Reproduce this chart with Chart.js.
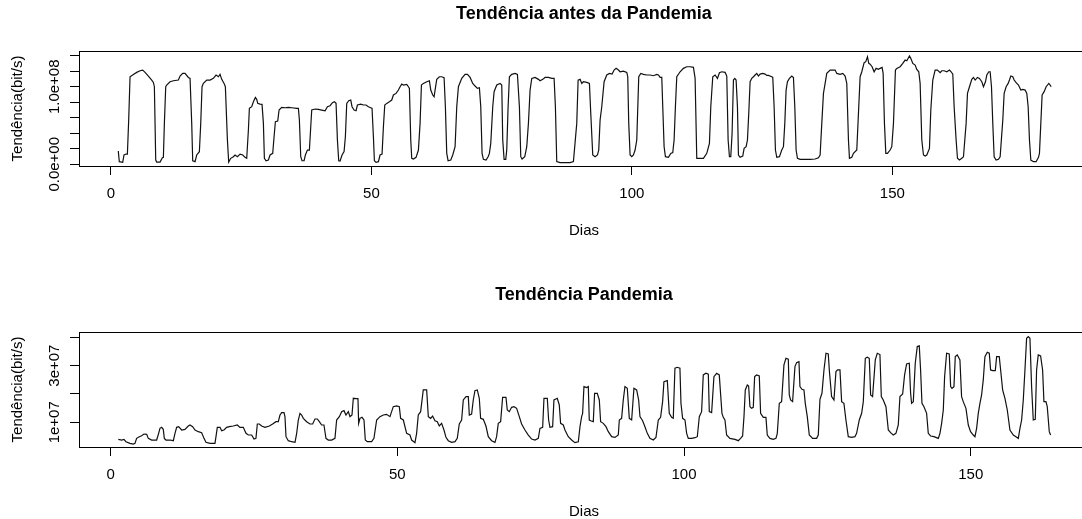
<!DOCTYPE html>
<html>
<head>
<meta charset="utf-8">
<script src="https://cdn.jsdelivr.net/npm/chart.js@4.4.1/dist/chart.umd.min.js"></script>
<style>
  html, body { margin: 0; padding: 0; background: #fff; overflow: hidden; }
  #wrap { position: relative; width: 1082px; height: 519px; overflow: hidden; }
  canvas { position: absolute; left: 0; }
  #topChart { top: 0; }
  #bottomChart { top: 260px; }
</style>
</head>
<body>
<div id="wrap">
  <canvas id="topChart" width="1100" height="260"></canvas>
  <canvas id="bottomChart" width="1100" height="259"></canvas>
</div>
<script>
// values are read in Mbit/s and turned into bit/s when the datasets are built
const MBIT = 1e6;

/* =========================
   DATA - antes da pandemia
========================= */

const beforeDays = [
  1.4, 1.6, 2.25, 2.5, 2.9, 3.15, 3.4, 3.66, 4.3, 4.94, 5.58, 6.09, 6.54, 7.18, 7.82, 8.14, 8.33, 8.59, 8.78, 9.42,
  9.87, 10.06, 10.25, 10.51, 10.7, 11.34, 11.98, 12.94, 13.26, 13.77, 14.22, 14.86, 15.18, 15.5, 15.69, 16.14, 16.46, 16.97, 17.23, 17.48,
  17.74, 18.38, 19.02, 19.66, 20.17, 20.62, 20.94, 21.26, 21.71, 21.96, 22.35, 22.6, 22.99, 23.5, 23.82, 24.27, 24.78, 25.29, 25.74, 26.06,
  26.38, 26.57, 27.02, 27.34, 27.72, 27.98, 28.17, 28.62, 29.0, 29.26, 29.45, 29.77, 30.22, 30.54, 31.05, 31.31, 31.56, 32.01, 32.27, 32.78,
  33.42, 34.06, 34.7, 35.66, 35.98, 36.17, 36.43, 36.68, 37.07, 37.32, 37.71, 38.09, 38.35, 38.54, 39.18, 39.82, 40.46, 41.1, 41.55, 42.06,
  42.51, 42.89, 43.21, 43.47, 43.72, 43.98, 44.36, 44.75, 45.0, 45.26, 45.64, 46.03, 46.28, 46.67, 47.05, 47.31, 47.95, 48.46, 48.97, 49.42,
  49.87, 50.12, 50.38, 50.57, 50.89, 51.34, 51.66, 52.04, 52.3, 52.56, 52.94, 53.45, 53.9, 54.22, 54.73, 55.18, 55.5, 55.82, 56.14, 56.78,
  57.1, 57.29, 57.55, 57.74, 58.06, 58.57, 59.02, 59.34, 59.6, 59.98, 60.62, 61.13, 61.39, 61.77, 62.03, 62.22, 62.54, 63.05, 63.5, 63.95,
  64.2, 64.46, 64.72, 65.23, 65.61, 66.06, 66.38, 66.7, 67.34, 67.98, 68.43, 68.94, 69.45, 69.9, 70.35, 70.73, 70.99, 71.24, 71.5, 72.01,
  72.4, 72.65, 72.91, 73.29, 73.55, 74.06, 74.7, 75.02, 75.21, 75.47, 75.79, 75.98, 76.24, 76.49, 76.94, 77.58, 78.03, 78.41, 78.67, 78.92,
  79.44, 79.82, 80.14, 80.46, 80.78, 81.42, 82.06, 82.38, 82.89, 83.34, 83.98, 84.62, 85.07, 85.32, 85.58, 86.22, 87.18, 88.14, 88.78, 89.42,
  89.68, 90.06, 90.38, 90.7, 91.34, 91.85, 92.11, 92.49, 92.94, 93.39, 93.64, 93.9, 94.22, 94.67, 95.18, 95.69, 96.2, 96.59, 96.97, 97.42,
  97.74, 98.38, 99.02, 99.21, 99.4, 99.66, 99.98, 100.3, 100.62, 100.94, 101.32, 101.71, 102.22, 102.86, 103.5, 104.14, 104.78, 105.1, 105.42, 105.74,
  105.93, 106.19, 106.44, 107.02, 107.47, 107.85, 108.11, 108.36, 108.62, 109.26, 109.9, 110.54, 111.18, 111.82, 112.14, 112.46, 113.1, 113.74, 114.38, 114.89,
  115.15, 115.53, 115.98, 116.43, 116.81, 117.26, 117.9, 118.22, 118.48, 118.73, 118.99, 119.24, 119.5, 119.76, 120.01, 120.27, 120.46, 120.78, 121.29, 121.55,
  121.93, 122.19, 122.44, 122.7, 123.02, 123.34, 123.66, 123.98, 124.3, 124.62, 125.13, 125.58, 125.9, 126.22, 126.86, 127.05, 127.31, 127.56, 127.82, 128.33,
  128.78, 129.1, 129.36, 129.61, 129.87, 130.25, 130.7, 131.02, 131.28, 131.53, 131.79, 132.3, 133.26, 134.22, 135.18, 135.82, 136.14, 136.46, 136.78, 137.1,
  137.42, 138.06, 139.02, 139.34, 139.98, 140.49, 140.94, 141.26, 141.58, 141.77, 142.22, 142.54, 143.18, 143.82, 144.14, 144.59, 144.91, 145.23, 145.48, 145.74,
  146.12, 146.51, 146.89, 147.34, 147.66, 148.04, 148.24, 148.49, 148.75, 149.07, 149.58, 149.9, 150.22, 150.6, 150.86, 151.5, 152.01, 152.46, 152.78, 153.29,
  153.55, 153.93, 154.38, 154.7, 155.08, 155.34, 155.66, 155.98, 156.3, 156.62, 157.13, 157.39, 157.77, 158.22, 158.67, 159.18, 159.5, 159.95, 160.46, 160.97,
  161.29, 161.61, 161.87, 162.25, 162.51, 162.89, 163.34, 163.66, 164.17, 164.43, 164.81, 165.26, 165.58, 165.9, 166.35, 166.73, 167.18, 167.5, 167.88, 168.14,
  168.52, 168.78, 169.04, 169.29, 169.55, 169.93, 170.38, 170.7, 171.21, 171.47, 171.85, 172.24, 172.49, 172.75, 173.13, 173.39, 173.77, 174.22, 174.67, 175.05,
  175.5, 175.82, 176.08, 176.33, 176.59, 177.1, 177.61, 178.06, 178.25, 178.51, 178.76, 179.15, 179.53, 180.04, 180.3, 180.49
];

const beforeTraffic = [
  17.1, 3.4, 2.5, 12, 13.2, 13.2, 57.1, 113, 116, 118.6, 120.7, 121.6, 118.6, 113.9, 108.7, 105.7, 100.1, 5.5, 2.9, 2.9,
  8.5, 9, 52.8, 100.1, 102.3, 106.5, 107.8, 108.7, 113.9, 117.3, 117.3, 112.1, 110.9, 52.8, 4.6, 3.4, 12, 16.3, 52.8, 100.1,
  104.4, 108.7, 108.7, 110.9, 115.2, 113, 116, 109.6, 104.4, 100.1, 31.3, 2.9, 7.7, 9.8, 12, 9.8, 13.2, 12, 9, 7.7,
  44.2, 72.2, 74.3, 80.7, 86.3, 83.8, 78.6, 77.7, 77.3, 52.8, 7.7, 4.6, 5.5, 12, 14.1, 35.6, 55, 55.8, 70, 73.4,
  73, 73.4, 73, 72.2, 72.2, 57.1, 9.8, 4.6, 4.6, 12, 18.4, 18.4, 48.5, 70, 71.3, 70.9, 70, 69.1, 74.3, 75.6,
  79.5, 80.7, 78.6, 31.3, 4.6, 4.2, 12, 16.3, 35.6, 78.6, 82, 82.9, 74.3, 70, 69.1, 76.5, 77.7, 76.5, 76.5, 74.3,
  73, 72.2, 35.6, 4.6, 2.5, 3.4, 12, 13.2, 48.5, 76.5, 78.6, 80.7, 82.9, 89.4, 91.5, 95.8, 100.1, 103.5, 102.3, 103.1,
  100.1, 98, 31.3, 7.7, 6.8, 9, 18.4, 52.8, 102.3, 104.4, 106.5, 107.8, 95.8, 89.4, 87.2, 95.8, 109.6, 113, 113, 111.7,
  74.3, 14.1, 4.6, 5.5, 12, 22.7, 74.3, 100.1, 110.9, 116, 116, 112.1, 104.4, 101, 98, 98.8, 74.3, 14.1, 6.4, 5.5,
  9.8, 14.1, 27, 74.3, 93.7, 102.3, 104.4, 102.3, 31.3, 6.4, 6.4, 18.4, 74.3, 113, 116, 117.3, 116, 74.3, 9.8, 6.8,
  9.8, 22.7, 52.8, 95.8, 110.9, 112.1, 109.6, 107.8, 109.6, 112.1, 112.1, 110.9, 110.9, 74.3, 3.4, 2.1, 2.1, 2.1, 3.4, 52.8,
  108.7, 109.6, 104.4, 106.5, 105.7, 104.4, 65.7, 12, 9.8, 12, 18.4, 57.1, 74.3, 106.5, 115.2, 117.3, 116.4, 121.6, 123.8, 121.6,
  119.4, 120.3, 118.6, 113, 52.8, 12, 9.8, 12, 18.4, 31.3, 113, 117.3, 116, 115.2, 115.2, 114.3, 116, 115.2, 112.1, 112.1,
  74.3, 22.7, 9.8, 9, 14.1, 15, 31.3, 74.3, 113, 119.4, 123.8, 125.9, 125.9, 125.1, 110.9, 7.7, 7.7, 7.7, 14.1, 27,
  74.3, 113, 115.2, 110.9, 118.2, 119.4, 118.6, 113.9, 31.3, 9.8, 9.8, 40, 108.7, 110.9, 108.7, 74.3, 12, 9, 10.7, 20.5,
  22.7, 31.3, 65.7, 106.5, 110.9, 113, 115.2, 117.3, 113.9, 116.4, 117.3, 116.4, 114.7, 114.7, 113, 112.1, 74.3, 18.4, 9, 9.8,
  18.4, 22.7, 52.8, 95.8, 106.5, 110.9, 113.9, 112.1, 74.3, 18.4, 7.7, 6.4, 6.4, 6.4, 6.8, 8.5, 12, 52.8, 91.5, 104.4,
  117.3, 121.6, 121.6, 117.3, 116, 117.3, 113.9, 104.4, 31.3, 7.7, 9, 14.1, 18.4, 113, 119.4, 131.1, 132.4, 138.8, 130.2, 129.3,
  125.9, 119.4, 123.8, 122.5, 123.8, 125.1, 117.3, 52.8, 14.1, 14.1, 18.4, 22.7, 52.8, 121.6, 123.8, 125.9, 130.2, 134.5, 133.6, 139.7,
  136.7, 130.2, 128, 122.5, 119.4, 104.4, 31.3, 12, 10.7, 12, 20.5, 70, 108.7, 121.6, 121.6, 118.2, 120.7, 120.7, 119.4, 121.6,
  119.4, 116.4, 74.3, 31.3, 7.7, 5.5, 7.7, 9.8, 52.8, 91.5, 100.1, 109.6, 112.1, 108.7, 112.1, 110.9, 106.5, 100.1, 106.5, 115.2,
  119.4, 119.4, 100.1, 52.8, 9.8, 5.5, 6.4, 9.8, 57.1, 91.5, 100.1, 104.4, 108.7, 113.9, 113, 108.7, 105.3, 102.3, 95.8, 96.7,
  95.8, 91.5, 74.3, 31.3, 5.5, 3.4, 3.4, 9, 14.1, 52.8, 89.4, 93.7, 100.1, 104.4, 102.3, 100.1
];

/* =========================
   DATA - pandemia
========================= */

const pandemicDays = [
  1.35, 1.93, 2.33, 2.68, 3.38, 3.96, 4.25, 4.54, 5.01, 5.42, 5.82, 6.29, 6.58, 7.16, 8.03, 8.38, 8.61, 8.9, 9.19, 9.37,
  9.66, 10.36, 10.94, 11.23, 11.52, 11.87, 12.39, 12.97, 13.55, 13.84, 14.31, 14.72, 15.3, 15.88, 16.29, 16.63, 17.33, 18.2, 18.38, 18.61,
  19.08, 19.37, 19.77, 20.24, 20.7, 21.4, 22.1, 22.56, 23.14, 23.61, 24.02, 24.6, 25.01, 25.35, 25.59, 25.94, 26.34, 26.92, 27.68, 28.26,
  28.84, 29.25, 29.54, 29.83, 30.24, 30.41, 30.59, 30.99, 31.57, 32.16, 32.45, 32.74, 33.03, 33.32, 33.61, 34.19, 34.77, 35.24, 35.64, 36.05,
  36.4, 36.81, 37.21, 37.56, 37.97, 38.55, 39.13, 39.42, 39.89, 40.29, 40.7, 41.05, 41.46, 41.75, 42.1, 42.33, 42.79, 43.14, 43.26, 43.49,
  43.84, 44.19, 44.42, 44.77, 45.52, 45.93, 46.4, 46.98, 47.56, 48.14, 48.72, 49.3, 49.88, 50.35, 50.58, 51.05, 51.63, 52.21, 52.5, 53.08,
  53.37, 53.66, 54.07, 54.53, 55.12, 55.41, 55.81, 56.16, 56.57, 56.98, 57.32, 57.73, 58.14, 58.49, 58.89, 59.48, 60.06, 60.46, 60.81, 61.22,
  61.51, 61.98, 62.38, 62.56, 62.96, 63.25, 63.54, 63.95, 64.3, 64.53, 65.0, 65.46, 65.87, 66.45, 67.03, 67.32, 67.61, 68.02, 68.37, 68.95,
  69.18, 69.53, 69.94, 70.35, 70.81, 71.28, 71.68, 72.26, 72.85, 73.43, 74.01, 74.59, 74.88, 75.35, 75.58, 76.16, 76.39, 76.62, 77.09, 77.32,
  77.9, 78.25, 78.48, 78.95, 79.24, 79.82, 80.4, 80.98, 81.57, 81.86, 82.15, 82.32, 82.55, 83.02, 83.31, 83.48, 83.83, 84.18, 84.41, 84.88,
  85.23, 85.46, 85.92, 86.39, 86.8, 87.38, 87.96, 88.54, 88.72, 89.12, 89.41, 89.7, 90.11, 90.46, 90.87, 91.27, 91.74, 92.09, 92.32, 92.78,
  93.19, 93.6, 94.06, 94.64, 95.11, 95.52, 95.92, 96.27, 96.5, 97.09, 97.43, 97.84, 98.13, 98.42, 98.83, 99.29, 99.47, 99.76, 100.17, 100.46,
  100.75, 101.33, 101.91, 102.32, 102.67, 103.07, 103.36, 103.83, 104.24, 104.41, 104.82, 105.22, 105.69, 106.15, 106.62, 106.85, 107.14, 107.43, 108.01, 108.89,
  109.47, 109.87, 110.22, 110.46, 110.69, 111.04, 111.27, 111.5, 111.79, 112.08, 112.32, 112.66, 113.13, 113.36, 113.83, 114.29, 114.52, 114.99, 115.57, 116.04,
  116.27, 116.62, 117.02, 117.43, 117.78, 118.19, 118.36, 118.59, 118.94, 119.35, 119.64, 120.05, 120.22, 120.57, 120.92, 121.15, 121.5, 121.85, 122.43, 123.13,
  123.42, 123.71, 124.06, 124.41, 124.76, 125.16, 125.34, 125.74, 126.15, 126.5, 126.79, 127.2, 127.49, 127.89, 128.24, 128.65, 129.23, 129.81, 130.1, 130.57,
  130.98, 131.27, 131.62, 131.96, 132.31, 132.55, 132.89, 133.36, 133.71, 134.17, 134.41, 134.75, 135.22, 135.63, 136.03, 136.5, 136.96, 137.37, 137.66, 138.13,
  138.47, 138.82, 139.29, 139.52, 139.69, 139.99, 140.33, 140.68, 141.03, 141.26, 141.5, 141.85, 142.31, 142.6, 143.01, 143.59, 144.35, 144.64, 144.93, 145.22,
  145.45, 145.8, 146.26, 146.5, 146.73, 147.08, 147.31, 147.66, 148.12, 148.41, 148.7, 149.17, 149.58, 149.98, 150.45, 150.74, 151.03, 151.32, 151.61, 151.9,
  152.19, 152.48, 152.89, 153.24, 153.47, 153.82, 154.29, 154.52, 154.98, 155.22, 155.57, 155.97, 156.38, 156.84, 157.43, 157.89, 158.3, 158.59, 158.88, 159.17,
  159.46, 159.75, 160.04, 160.33, 160.62, 160.91, 161.26, 161.49, 161.78, 162.19, 162.54, 162.77, 163.12, 163.35, 163.7, 163.94
];

const pandemicTraffic = [
  3.98, 3.74, 3.98, 3.15, 2.56, 2.33, 2.56, 4.33, 4.92, 5.27, 5.86, 5.74, 4.33, 3.74, 3.74, 6.1, 7.87, 8.22, 7.51, 4.33,
  3.74, 3.74, 3.51, 6.1, 8.22, 8.45, 7.28, 7.51, 8.69, 9.04, 8.45, 7.28, 6.69, 6.33, 4.33, 2.92, 2.56, 2.56, 4.92, 8.22,
  8.22, 7.04, 7.28, 8.22, 8.45, 8.69, 9.04, 8.22, 8.22, 6.1, 5.51, 5.51, 4.1, 4.33, 9.4, 9.4, 8.69, 8.22, 8.69, 9.4,
  10.22, 10.22, 12.58, 13.4, 13.4, 11.99, 4.92, 3.51, 3.15, 2.92, 6.1, 10.81, 13.17, 12.58, 11.4, 10.22, 9.4, 9.4, 11.16, 11.16,
  10.22, 9.04, 9.04, 4.33, 3.74, 3.74, 4.33, 10.81, 11.99, 13.75, 14.11, 12.58, 13.75, 11.99, 12.58, 18.47, 18.35, 18.35, 9.63, 11.4,
  11.75, 10.81, 3.74, 3.15, 3.15, 4.33, 10.81, 11.99, 12.58, 12.81, 11.99, 15.52, 15.76, 15.52, 11.4, 10.81, 6.1, 5.51, 3.74, 2.8,
  6.1, 12.58, 13.75, 21.41, 21.41, 11.99, 11.4, 12.22, 10.57, 10.22, 8.69, 9.63, 7.28, 4.68, 3.51, 2.92, 3.15, 4.33, 9.4, 10.81,
  17.88, 19.06, 19.06, 12.58, 12.93, 17.88, 21.18, 21.41, 18.47, 11.4, 11.05, 8.69, 4.92, 3.51, 2.92, 4.92, 9.63, 10.22, 18.82, 18.82,
  14.34, 13.75, 15.29, 15.52, 14.93, 11.99, 9.4, 7.28, 5.51, 4.1, 3.74, 4.33, 7.87, 8.22, 18.47, 18.47, 10.81, 8.22, 8.45, 17.88,
  18.47, 16.11, 9.63, 9.04, 7.28, 4.92, 3.74, 2.8, 3.15, 8.45, 11.99, 13.17, 22.59, 22.24, 22.59, 10.81, 10.46, 10.22, 20.23, 20.23,
  17.88, 10.22, 9.63, 8.45, 6.69, 4.92, 4.68, 5.51, 10.81, 11.4, 17.88, 22.59, 22.0, 11.4, 10.81, 22.0, 21.41, 17.88, 11.99, 10.57,
  8.45, 6.1, 4.33, 3.74, 4.68, 10.81, 11.75, 17.29, 24.36, 24.71, 13.17, 11.75, 11.4, 29.07, 29.42, 29.07, 16.7, 11.4, 10.81, 6.1,
  4.33, 4.33, 4.57, 4.92, 11.99, 13.75, 26.71, 27.3, 26.95, 13.75, 13.4, 26.12, 27.3, 26.71, 13.17, 11.75, 10.81, 5.51, 4.33, 3.98,
  3.51, 4.33, 5.16, 11.99, 21.41, 23.18, 22.83, 15.52, 14.93, 15.29, 26.12, 26.71, 26.36, 13.17, 11.75, 11.75, 5.51, 4.33, 3.98, 4.33,
  6.1, 16.7, 17.29, 30.25, 32.6, 32.25, 19.65, 17.88, 17.29, 29.66, 31.07, 31.43, 22.59, 21.65, 21.41, 16.7, 11.99, 5.51, 4.33, 4.33,
  5.51, 18.11, 20.23, 28.48, 34.37, 34.13, 28.48, 19.06, 17.88, 27.89, 28.48, 28.48, 17.29, 16.7, 10.81, 4.92, 4.68, 4.92, 6.1, 10.81,
  13.17, 17.29, 32.6, 32.96, 32.6, 19.65, 19.06, 32.01, 34.37, 33.9, 19.06, 17.88, 15.52, 7.28, 6.33, 5.51, 6.1, 9.04, 19.06, 20.0,
  26.71, 30.6, 30.84, 20.23, 16.7, 17.29, 30.84, 36.73, 36.96, 28.48, 16.7, 15.52, 13.17, 6.1, 5.16, 4.92, 4.33, 6.1, 9.63, 14.34,
  26.12, 34.37, 34.13, 22.59, 22.0, 22.59, 33.19, 33.78, 32.01, 19.06, 17.29, 14.93, 9.04, 6.69, 5.51, 4.92, 7.87, 13.17, 16.7, 19.65,
  24.95, 33.19, 34.72, 34.37, 28.48, 28.24, 28.24, 33.19, 33.19, 28.48, 21.41, 18.47, 14.34, 7.28, 5.51, 4.92, 4.33, 7.87, 10.81, 17.88,
  28.48, 39.67, 40.26, 39.67, 22.59, 10.81, 11.05, 28.48, 33.78, 33.43, 28.48, 17.29, 17.29, 15.52, 6.69, 5.51
];

/* =========================
   AXES
========================= */

const dayTicks = [0, 50, 100, 150];

const beforeYTicks = [0, 20e6, 40e6, 60e6, 80e6, 100e6, 120e6, 140e6];
const beforeYLabels = ['0.0e+00', '', '', '', '', '1.0e+08', '', ''];

const pandemicYTicks = [10e6, 20e6, 30e6, 40e6];
const pandemicYLabels = ['1e+07', '', '3e+07', ''];

const FONT = '"Liberation Sans", Arial, Helvetica, sans-serif';
Chart.defaults.font.family = FONT;
Chart.defaults.color = '#000';


/* =========================
   R STYLE FRAME + LABELS
========================= */

const rFrame = {
    id: 'rFrame',
    afterDraw(chart, args, opts) {
        const ctx = chart.ctx;
        const a = chart.chartArea;
        const yScale = chart.scales.y;

        ctx.save();
        ctx.strokeStyle = '#000';
        ctx.lineWidth = 1;
        ctx.strokeRect(a.left + 0.5, a.top + 0.5, a.right - a.left, a.bottom - a.top);

        ctx.fillStyle = '#000';
        ctx.textAlign = 'center';
        ctx.textBaseline = 'middle';

        // y tick labels, parallel to the axis like R does
        ctx.font = '15px ' + FONT;
        yScale.ticks.forEach((t, i) => {
            const txt = opts.yLabels[i];
            if (!txt) return;
            ctx.save();
            ctx.translate(54.5, yScale.getPixelForValue(t.value));
            ctx.rotate(-Math.PI / 2);
            ctx.fillText(txt, 0, 0);
            ctx.restore();
        });

        // y axis title
        ctx.save();
        ctx.translate(17.5, (a.top + a.bottom) / 2);
        ctx.rotate(-Math.PI / 2);
        ctx.fillText('Tendência(bit/s)', 0, 0);
        ctx.restore();

        // x axis title
        ctx.fillText('Dias', (a.left + a.right) / 2, opts.xTitleY);
        ctx.restore();
    }
};


function makePanel(canvasId, cfg) {

    const canvas = document.getElementById(canvasId);

    return new Chart(canvas, {
        type: 'line',
        data: {
            datasets: [{
                data: cfg.days.map((d, i) => ({ x: d, y: cfg.values[i] * MBIT })),
                borderColor: '#111',
                borderWidth: 1.2,
                pointRadius: 0,
                tension: 0,
                fill: false
            }]
        },
        options: {
            responsive: false,
            devicePixelRatio: 1,
            animation: false,
            events: [],
            layout: { padding: { left: 0, right: 11, top: 0, bottom: 0 } },
            scales: {
                x: {
                    type: 'linear',
                    min: cfg.xMin,
                    max: cfg.xMax,
                    afterBuildTicks: s => { s.ticks = dayTicks.map(v => ({ value: v })); },
                    afterFit: s => { s.height = canvas.height - cfg.areaBottom; },
                    border: { display: false },
                    grid: {
                        drawOnChartArea: false,
                        drawTicks: true,
                        tickLength: 9,
                        color: '#000',
                        lineWidth: 1
                    },
                    ticks: {
                        padding: 10,
                        font: { size: 15 },
                        color: '#000',
                        maxRotation: 0,
                        callback: v => String(v)
                    }
                },
                y: {
                    type: 'linear',
                    min: cfg.yMin,
                    max: cfg.yMax,
                    afterBuildTicks: s => { s.ticks = cfg.yTicks.map(v => ({ value: v })); },
                    afterFit: s => { s.width = 79; },
                    border: { display: false },
                    grid: {
                        drawOnChartArea: false,
                        drawTicks: true,
                        tickLength: 9,
                        color: '#000',
                        lineWidth: 1
                    },
                    ticks: { display: false }
                }
            },
            plugins: {
                legend: { display: false },
                tooltip: { enabled: false },
                title: {
                    display: true,
                    text: cfg.title,
                    fullSize: false,
                    color: '#000',
                    font: { size: 18, weight: 'bold' },
                    padding: { top: cfg.titleTop, bottom: cfg.areaTop - cfg.titleTop - 21.6 }
                },
                rFrame: { yLabels: cfg.yLabels, xTitleY: cfg.xTitleY }
            }
        },
        plugins: [rFrame]
    });
}


makePanel('topChart', {
    title: 'Tendência antes da Pandemia',
    days: beforeDays,
    values: beforeTraffic,
    xMin: -6.14, xMax: 187.76,
    yMin: -2.2e6, yMax: 146.2e6,
    yTicks: beforeYTicks,
    yLabels: beforeYLabels,
    titleTop: 3.5,
    areaTop: 51,
    areaBottom: 166,
    xTitleY: 231
});

makePanel('bottomChart', {
    title: 'Tendência Pandemia',
    days: pandemicDays,
    values: pandemicTraffic,
    xMin: -5.51, xMax: 170.63,
    yMin: 1.28e6, yMax: 41.87e6,
    yTicks: pandemicYTicks,
    yLabels: pandemicYLabels,
    titleTop: 24.5,
    areaTop: 72,
    areaBottom: 187,
    xTitleY: 252
});
</script>
</body>
</html>
